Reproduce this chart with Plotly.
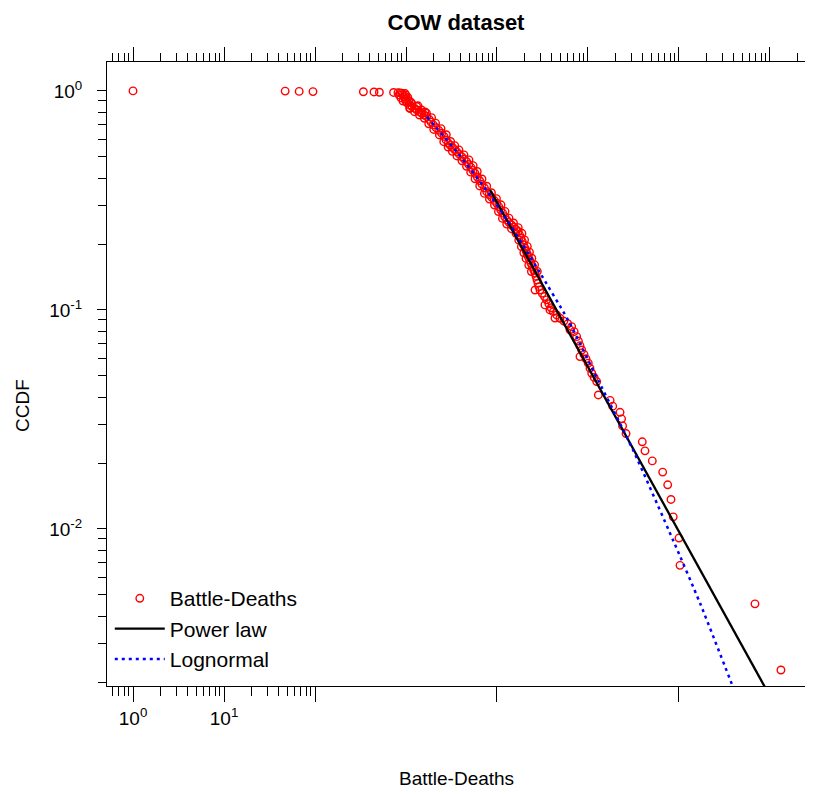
import numpy as np
import plotly.graph_objects as go

# ---------------- data ----------------
# observed CCDF: wars whose CCDF is ~1 (leftmost points)
head_deaths = [1, 47, 67, 95, 340, 445, 510, 730]
head_ccdf = [1.0, 0.998, 0.995, 0.993, 0.991, 0.989, 0.986, 0.984]

# dense middle band (read on the log-log grid, stored as log10 values)
band_log10_deaths = [
    2.912, 2.934, 2.956, 2.967, 2.978, 2.989, 3.000, 3.011, 3.038, 3.066,
    3.093, 3.118, 3.145, 3.173, 3.200, 3.227, 3.256, 3.275, 3.300, 3.330,
    3.360, 3.392, 3.418, 3.440, 3.465, 3.488, 3.511, 3.534, 3.557, 3.585,
    3.612, 3.640, 3.667, 3.690, 3.713, 3.736, 3.758, 3.784, 3.810, 3.835,
    3.862, 3.887, 3.914, 3.942, 3.969, 3.997, 4.019, 4.041, 4.063, 4.085,
    4.107, 4.132, 4.157, 4.184, 4.209, 4.234, 4.249, 4.264, 4.278, 4.293,
    4.308, 4.320, 4.332, 4.344, 4.358, 4.374, 4.388, 4.403, 4.418, 4.429,
    4.440, 4.451, 4.462, 4.473, 4.497, 4.522, 4.546, 4.570, 4.595, 4.619,
    4.656, 4.692, 4.735, 4.778, 4.821, 4.848, 4.876, 4.895, 4.912, 4.931,
    4.956, 4.978, 5.003, 5.022, 5.041, 5.068, 5.096,
    2.923, 2.945, 2.967, 3.044, 3.132, 3.209, 4.418, 4.527, 4.582, 4.637,
    4.802, 4.912,
    3.000, 2.990, 3.020, 3.030, 3.050,
]
band_log10_ccdf = [
    -0.008, -0.009, -0.010, -0.018, -0.027, -0.037, -0.046, -0.055, -0.064, -0.072,
    -0.079, -0.087, -0.095, -0.102, -0.110, -0.117, -0.130, -0.142, -0.155, -0.168,
    -0.180, -0.193, -0.208, -0.224, -0.239, -0.248, -0.258, -0.268, -0.277, -0.289,
    -0.300, -0.311, -0.323, -0.336, -0.349, -0.363, -0.376, -0.393, -0.410, -0.426,
    -0.443, -0.460, -0.473, -0.486, -0.500, -0.513, -0.528, -0.543, -0.558, -0.574,
    -0.589, -0.600, -0.611, -0.621, -0.632, -0.642, -0.658, -0.673, -0.688, -0.703,
    -0.718, -0.731, -0.744, -0.757, -0.772, -0.787, -0.802, -0.817, -0.832, -0.847,
    -0.863, -0.878, -0.894, -0.909, -0.924, -0.939, -0.954, -0.972, -0.990, -1.008,
    -1.023, -1.038, -1.051, -1.063, -1.076, -1.099, -1.122, -1.142, -1.163, -1.183,
    -1.203, -1.223, -1.243, -1.266, -1.289, -1.308, -1.327,
    -0.018, -0.032, -0.046, -0.078, -0.068, -0.096, -0.909, -0.977, -1.000, -1.037,
    -1.091, -1.213,
    -0.020, -0.012, -0.030, -0.045, -0.050,
]
# points read on the upper-right edge of the dense band
band_upper_log10_deaths = [
    3.063, 3.118, 3.170, 3.225, 3.281, 3.325, 3.385, 3.443, 3.490, 3.536,
    3.582, 3.637, 3.692, 3.738, 3.783, 3.835, 3.887, 3.939, 3.994, 4.044,
    4.088, 4.132, 4.182, 4.234, 4.274, 4.303, 4.333, 4.357, 4.383, 4.413,
    4.443,
]
band_upper_log10_ccdf = [
    -0.056, -0.071, -0.087, -0.102, -0.122, -0.147, -0.172, -0.200, -0.231, -0.250,
    -0.269, -0.292, -0.315, -0.341, -0.368, -0.402, -0.435, -0.465, -0.492, -0.520,
    -0.550, -0.581, -0.603, -0.624, -0.650, -0.680, -0.710, -0.736, -0.764, -0.794,
    -0.824,
]
# points read on the lower-left edge of the dense band
band_lower_log10_deaths = [
    3.041, 3.093, 3.148, 3.202, 3.250, 3.305, 3.367, 3.415, 3.463, 3.509,
    3.560, 3.615, 3.665, 3.711, 3.759, 3.810, 3.862, 3.917, 3.972, 4.016,
    4.060, 4.107, 4.159, 4.209, 4.239, 4.268, 4.295, 4.319, 4.349, 4.378,
]
band_lower_log10_ccdf = [
    -0.080, -0.095, -0.110, -0.125, -0.150, -0.176, -0.201, -0.232, -0.256, -0.276,
    -0.297, -0.319, -0.344, -0.371, -0.401, -0.434, -0.468, -0.494, -0.521, -0.551,
    -0.582, -0.608, -0.629, -0.650, -0.681, -0.711, -0.739, -0.765, -0.795, -0.825,
]

# sparse tail: largest wars
tail_deaths = [130000, 175000, 187000, 225000, 234000, 240000, 262000, 395000, 423000,
               509000, 662000, 752000, 817000, 865000, 1000000, 1026000, 6840000, 13200000]
tail_ccdf = [0.04091, 0.03864, 0.03636, 0.03409, 0.03182, 0.02955, 0.02727, 0.025, 0.02273,
             0.02045, 0.01818, 0.01591, 0.01364, 0.01136, 0.00909, 0.00682, 0.00455, 0.00227]

# fitted models
powerlaw_deaths = [8400, 16000000]
powerlaw_ccdf = [0.353, 0.00121]

lognormal_deaths = [1702, 3631, 7762, 12880, 19320, 29720, 60260, 128800, 312600,
                    859000, 1702000, 3919000, 6030000]
lognormal_ccdf = [0.761, 0.5265, 0.3495, 0.2576, 0.198, 0.1476, 0.0900, 0.0479,
                  0.02295, 0.00891, 0.00459, 0.0019, 0.0012]

x_label_ticks = [1, 10, 100, 1e4, 1e6]
x_label_text = ["10<sup>0</sup>", "10<sup>1</sup>", "", "", ""]
y_label_ticks = [1, 0.1, 0.01]
y_label_text = ["10<sup>0</sup>", "10<sup>-1</sup>", "10<sup>-2</sup>"]

# ---------------- figure ----------------
FONT = "Liberation Sans, Arial, Helvetica, sans-serif"
XR = [-0.286, 7.385]
YR = [-2.717, 0.132]
# the page body adds an 8px offset, so the figure is 8px smaller than the window
W, H = 805, 786

band_x = band_log10_deaths + band_upper_log10_deaths + band_lower_log10_deaths
band_y = band_log10_ccdf + band_upper_log10_ccdf + band_lower_log10_ccdf
obs_x = list(head_deaths) + list(10 ** np.array(band_x)) + list(tail_deaths)
obs_y = list(head_ccdf) + list(10 ** np.array(band_y)) + list(tail_ccdf)

fig = go.Figure()
fig.add_trace(go.Scatter(
    x=obs_x, y=obs_y, mode="markers", name="Battle-Deaths",
    marker=dict(symbol="circle-open", size=7.5, color="#FF0000",
                line=dict(width=1.4, color="#FF0000")),
    cliponaxis=False,
))
fig.add_trace(go.Scatter(
    x=powerlaw_deaths, y=powerlaw_ccdf, mode="lines", name="Power law",
    line=dict(color="black", width=2.3),
))
fig.add_trace(go.Scatter(
    x=lognormal_deaths, y=lognormal_ccdf, mode="lines", name="Lognormal",
    line=dict(color="#0000FF", width=2.5, dash="3px,4px", shape="spline", smoothing=0.6),
))
# empty helper trace so that the top (tick-only) axis is drawn
fig.add_trace(go.Scatter(x=[], y=[], xaxis="x2", yaxis="y", showlegend=False,
                         hoverinfo="skip", mode="markers"))

bottom_minor = [0.6, 0.7, 0.8, 0.9] + [m for m in range(2, 10)] + [m * 10 for m in range(2, 10)]
top_major = [10 ** k for k in range(0, 8)]
top_minor = [0.6, 0.7, 0.8, 0.9] + [m * 10 ** k for k in range(0, 8) for m in range(2, 10)
                                    if m * 10 ** k <= 10 ** XR[1]]
y_minor = [m * 10.0 ** k for k in (-3, -2, -1) for m in range(2, 10)
           if 10 ** YR[0] <= m * 10.0 ** k <= 10 ** YR[1]]

ML, MR, MT, MB = 99, 8, 54, 108
PH = H - MT - MB
PW = W - ML - MR

fig.update_layout(
    width=W, height=H,
    margin=dict(l=ML, r=MR, t=MT, b=MB, autoexpand=False),
    paper_bgcolor="white", plot_bgcolor="white",
    font=dict(family=FONT, color="black"),
    title=dict(text="<b>COW dataset</b>", x=0.5, xref="paper", y=1 - 14 / H,
               yref="container", yanchor="middle", xanchor="center",
               font=dict(size=22, family=FONT, color="black")),
    showlegend=True,
    legend=dict(x=0.004, y=0.011, xanchor="left", yanchor="bottom",
                bgcolor="rgba(0,0,0,0)", borderwidth=0,
                font=dict(size=21, family=FONT, color="black"),
                itemwidth=50, tracegroupgap=0),
    xaxis=dict(type="log", range=XR, showgrid=False, zeroline=False, automargin=False,
               showline=True, linecolor="black", linewidth=1, mirror=True,
               ticks="outside", ticklen=15, tickwidth=1, tickcolor="black",
               tickmode="array", tickvals=x_label_ticks, ticktext=x_label_text,
               tickfont=dict(size=19, family=FONT, color="black"),
               ticklabelstandoff=0,
               minor=dict(tickmode="array", tickvals=bottom_minor, ticks="outside",
                          ticklen=9, tickwidth=1, tickcolor="black", showgrid=False)),
    xaxis2=dict(type="log", range=XR, overlaying="x", side="top", anchor="y",
                showgrid=False, zeroline=False, showline=False, automargin=False,
                ticks="outside", ticklen=14, tickwidth=1, tickcolor="black",
                tickmode="array", tickvals=top_major, showticklabels=False,
                minor=dict(tickmode="array", tickvals=top_minor, ticks="outside",
                           ticklen=8, tickwidth=1, tickcolor="black", showgrid=False)),
    yaxis=dict(type="log", range=YR, showgrid=False, zeroline=False, automargin=False,
               showline=True, linecolor="black", linewidth=1, mirror="ticks",
               ticks="outside", ticklen=9, tickwidth=1, tickcolor="black",
               tickmode="array", tickvals=y_label_ticks, ticktext=y_label_text,
               tickfont=dict(size=19, family=FONT, color="black"),
               ticklabelstandoff=11,
               minor=dict(tickmode="array", tickvals=y_minor, ticks="outside",
                          ticklen=8, tickwidth=1, tickcolor="black", showgrid=False)),
    annotations=[
        dict(text="Battle-Deaths", xref="paper", yref="paper", x=0.5,
             y=(PH + MT - (778 - 8)) / PH,
             xanchor="center", yanchor="middle", showarrow=False,
             font=dict(size=19, family=FONT, color="black")),
        dict(text="CCDF", xref="paper", yref="paper", x=(22 - 8 - ML) / PW,
             y=(PH + MT - (406 - 8)) / PH,
             xanchor="center", yanchor="middle", textangle=-90, showarrow=False,
             font=dict(size=19, family=FONT, color="black")),
    ],
)

fig.write_html("out.html")
